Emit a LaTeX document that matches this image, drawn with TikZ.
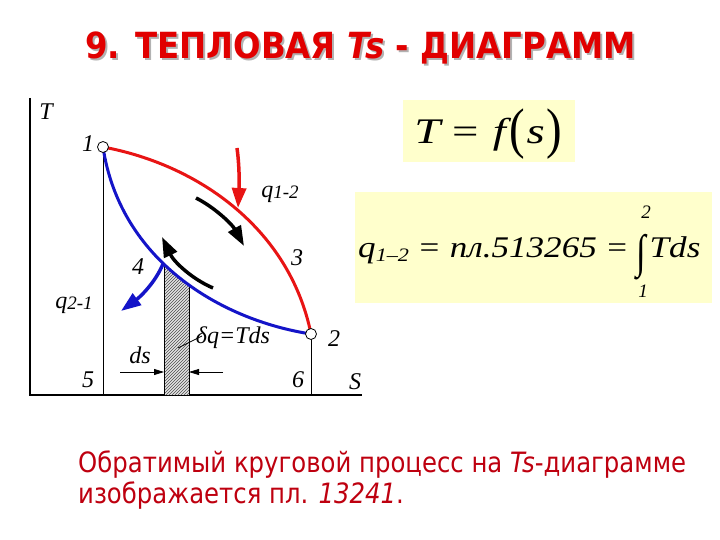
\documentclass[tikz,border=0pt]{standalone}
\usepackage{fontspec}
\setmainfont{Liberation Serif}
\newfontfamily\tah[FakeStretch=0.87]{DejaVu Sans}
\newfontfamily\tahtitle[FakeStretch=0.9]{DejaVu Sans}
\usetikzlibrary{arrows.meta,patterns}
\definecolor{redc}{RGB}{232,20,20}
\definecolor{bluec}{RGB}{20,20,200}
\definecolor{titlered}{RGB}{225,0,0}
\definecolor{textred}{RGB}{190,0,15}
\definecolor{paleyel}{RGB}{255,255,204}
\begin{document}
\begin{tikzpicture}[x=1pt,y=-1pt,
  lbl/.style={font=\fontsize{24}{26}\selectfont\itshape, inner sep=0pt},
  ptc/.style={circle, draw, fill=white, minimum size=11pt, inner sep=0pt, line width=0.8pt},
  bigarrow/.style={line width=3.5pt, -{Triangle[length=20pt,width=14pt]}},
  dimarrow/.style={line width=0.8pt, -{Triangle[length=10pt,width=6pt]}},
  ybox/.style={fill=paleyel, draw=none}]
\useasboundingbox (0,0) rectangle (720,540);

% title
\node[text=gray!60, font=\tahtitle\bfseries\fontsize{36}{40}\selectfont] (tshadow) at (362.5,50) {9. ТЕПЛОВАЯ \textit{Ts} - ДИАГРАММ};
\node[text=titlered, font=\tahtitle\bfseries\fontsize{36}{40}\selectfont] (title) at (360.5,48) {9. ТЕПЛОВАЯ \textit{Ts} - ДИАГРАММ};

% yellow boxes
\fill[ybox] (403,100) rectangle (575,162);
\fill[ybox] (355,192) rectangle (712,303);
\node[font=\fontsize{36}{40}\selectfont, inner sep=0pt] (tfs) at (488,134) {\scalebox{1.3}[1]{\itshape T\hspace{9pt}\upshape=\hspace{11pt}\itshape f\hspace{3pt}\raisebox{-4pt}{\scalebox{1}[1.55]{\upshape(}}\hspace{1pt}s\hspace{1pt}\raisebox{-4pt}{\scalebox{1}[1.55]{\upshape)}}}};
\node[font=\fontsize{30}{30}\selectfont, inner sep=0pt, anchor=base west] (q12f) at (358,257) {\scalebox{1.17}[1]{\itshape q\raisebox{-5pt}{\fontsize{19}{19}\selectfont 1–2}\upshape\hspace{9pt}=\hspace{9pt}\itshape пл.513265\upshape\hspace{9pt}=\hspace{8pt}\raisebox{-10pt}{\scalebox{1}[1.55]{\upshape ∫}}\hspace{3pt}\itshape Tds}};
\node[font=\fontsize{19}{19}\selectfont\itshape, inner sep=0pt] (lim2) at (646,212) {2};
\node[font=\fontsize{19}{19}\selectfont\itshape, inner sep=0pt] (lim1) at (643,291) {1};

% axes
\coordinate (ytop) at (30,98);
\coordinate (orig) at (30,395);
\coordinate (xend) at (362,395);
\draw[line width=2.5pt] (ytop) -- (orig) -- (xend);

\coordinate (c1) at (103,147);
\coordinate (c2) at (311,334);
\coordinate (f1) at (103,395);
\coordinate (f2) at (311,395);
\draw[line width=1pt] (c1) -- (f1);
\draw[line width=1pt] (c2) -- (f2);

% hatched strip
\begin{scope}
\clip (c1) .. controls (120,260) and (220,320) .. (c2) -- (f2) -- (f1) -- cycle;
\fill[gray!22] (164,200) rectangle (189,395);
\fill[pattern=north east lines, pattern color=gray!60!black] (164,200) rectangle (189,395);
\draw[line width=1pt] (164,200) -- (164,395) (189,200) -- (189,395);
\end{scope}

% curves
\draw[redc, line width=3pt] (c1) .. controls (200,165) and (290,230) .. (c2);
\draw[bluec, line width=3pt] (c1) .. controls (120,260) and (220,320) .. (c2);

\node[ptc] (p1) at (c1) {};
\node[ptc] (p2) at (c2) {};

% arrows
\coordinate (ra1) at (237,148);
\coordinate (ra2) at (238,208);
\draw[redc, bigarrow] (ra1) .. controls (240,170) and (239,190) .. (ra2);
\coordinate (ba1) at (196,198);
\coordinate (ba2) at (244,246);
\draw[black, bigarrow] (ba1) .. controls (214,207) and (232,224) .. (ba2);
\coordinate (bb1) at (213,288);
\coordinate (bb2) at (162,237);
\draw[black, bigarrow] (bb1) .. controls (192,279) and (174,262) .. (bb2);
\coordinate (p4) at (163,264);
\coordinate (bl2) at (121,311);
\draw[bluec, bigarrow] (p4) .. controls (155,283) and (140,297) .. (bl2);

% ds dimension
\coordinate (dl) at (120,372);
\coordinate (dr) at (223,372);
\coordinate (sl) at (164,372);
\coordinate (sr) at (189,372);
\draw[dimarrow] (dl) -- (sl);
\draw[dimarrow] (dr) -- (sr);

% leader
\coordinate (ld1) at (202,336);
\coordinate (ld2) at (178,348);
\draw[line width=0.8pt] (ld1) -- (ld2);

% labels
\node[lbl] (lT) at (46,112) {T};
\node[lbl] (l1) at (88,144) {1};
\node[lbl] (lq12) at (280,194) {q\raisebox{-1pt}{\fontsize{19}{19}\selectfont 1-2}};
\node[lbl] (l3) at (297,258) {3};
\node[lbl] (l4) at (138,267) {4};
\node[lbl] (lq21) at (74,305) {q\raisebox{-1pt}{\fontsize{19}{19}\selectfont 2-1}};
\node[lbl] (l2) at (334,339) {2};
\node[lbl] (lds) at (140,355) {ds};
\node[lbl] (ldq) at (233,338) {δq=Tds};
\node[lbl] (l5) at (88,380) {5};
\node[lbl] (l6) at (298,380) {6};
\node[lbl] (lS) at (355,382) {S};

% bottom text
\node[anchor=base west, text=textred, inner sep=0pt, font=\tah\fontsize{28}{30}\selectfont] (bt1) at (78,472) {Обратимый круговой процесс на \textit{Ts}-диаграмме};
\node[anchor=base west, text=textred, inner sep=0pt, font=\tah\fontsize{28}{30}\selectfont] (bt2) at (78,503) {изображается пл. \textit{13241}.};
\end{tikzpicture}
\end{document}
